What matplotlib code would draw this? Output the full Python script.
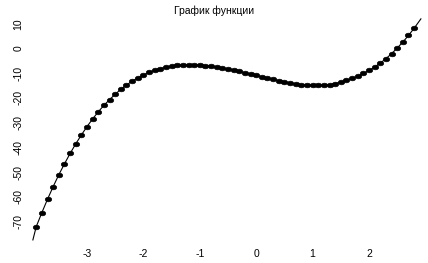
import numpy as np
import matplotlib
matplotlib.use("Agg")
import matplotlib.pyplot as plt
from matplotlib.path import Path

plt.rcParams['font.family'] = ['Liberation Sans', 'DejaVu Sans']

# points (x step 0.1)
x = np.round(np.arange(-3.9, 2.85, 0.1), 1)
y = [-72.1, -66.4, -61.0, -55.9, -51.1, -46.7, -42.5, -38.6, -35.0, -31.6,
     -28.5, -25.6, -23.0, -20.7, -18.5, -16.5, -14.8, -13.2, -11.9, -10.7,
     -9.7, -8.8, -8.1, -7.6, -7.1, -6.8, -6.7, -6.6, -6.6, -6.7,
     -6.9, -7.2, -7.5, -7.9, -8.3, -8.8, -9.3, -9.8, -10.4, -10.9,
     -11.4, -12.0, -12.5, -13.0, -13.5, -13.9, -14.3, -14.6, -14.8, -14.9,
     -14.9, -14.8, -14.6, -14.2, -13.6, -12.9, -12.1, -11.2, -10.1, -8.9,
     -7.5, -5.9, -4.1, -2.1, 0.2, 2.6, 5.3, 8.2]

# the line runs a little past the first and last point
line_x = [-3.96] + list(x) + [2.92]
line_y = [-77.5] + y + [12.0]

xticks = [-3, -2, -1, 0, 1, 2]
yticks = [10, 0, -10, -20, -30, -40, -50, -60, -70]

# slightly flattened dot, like the stretched original
t = np.linspace(0, 2 * np.pi, 40)
dot = Path(np.column_stack([np.cos(t), 0.72 * np.sin(t)]), closed=True)

fig = plt.figure(figsize=(4.28, 2.63), dpi=100)
ax = fig.add_axes([0, 0, 1, 1])
ax.plot(line_x, line_y, color='black', lw=0.8)
ax.plot(x, y, ls='none', marker=dot, color='black', ms=4.6, mec='black', mew=0.5)

ax.set_xlim(-4.543, 3.046)
ax.set_ylim(-86.84, 19.64)
ax.set_xticks(xticks)
ax.set_xticklabels([str(t) for t in xticks])
ax.set_yticks(yticks)
ax.set_yticklabels([str(t) for t in yticks], rotation=90, va='center')
ax.tick_params(axis='x', length=0, pad=-10, labelsize=7.5)
ax.tick_params(axis='y', length=0, pad=-17, labelsize=7.5)
for s in ax.spines.values():
    s.set_visible(False)

ax.set_title("График функции", fontsize=7.5, y=0.948, pad=0)

fig.savefig("out.png", dpi=100)
